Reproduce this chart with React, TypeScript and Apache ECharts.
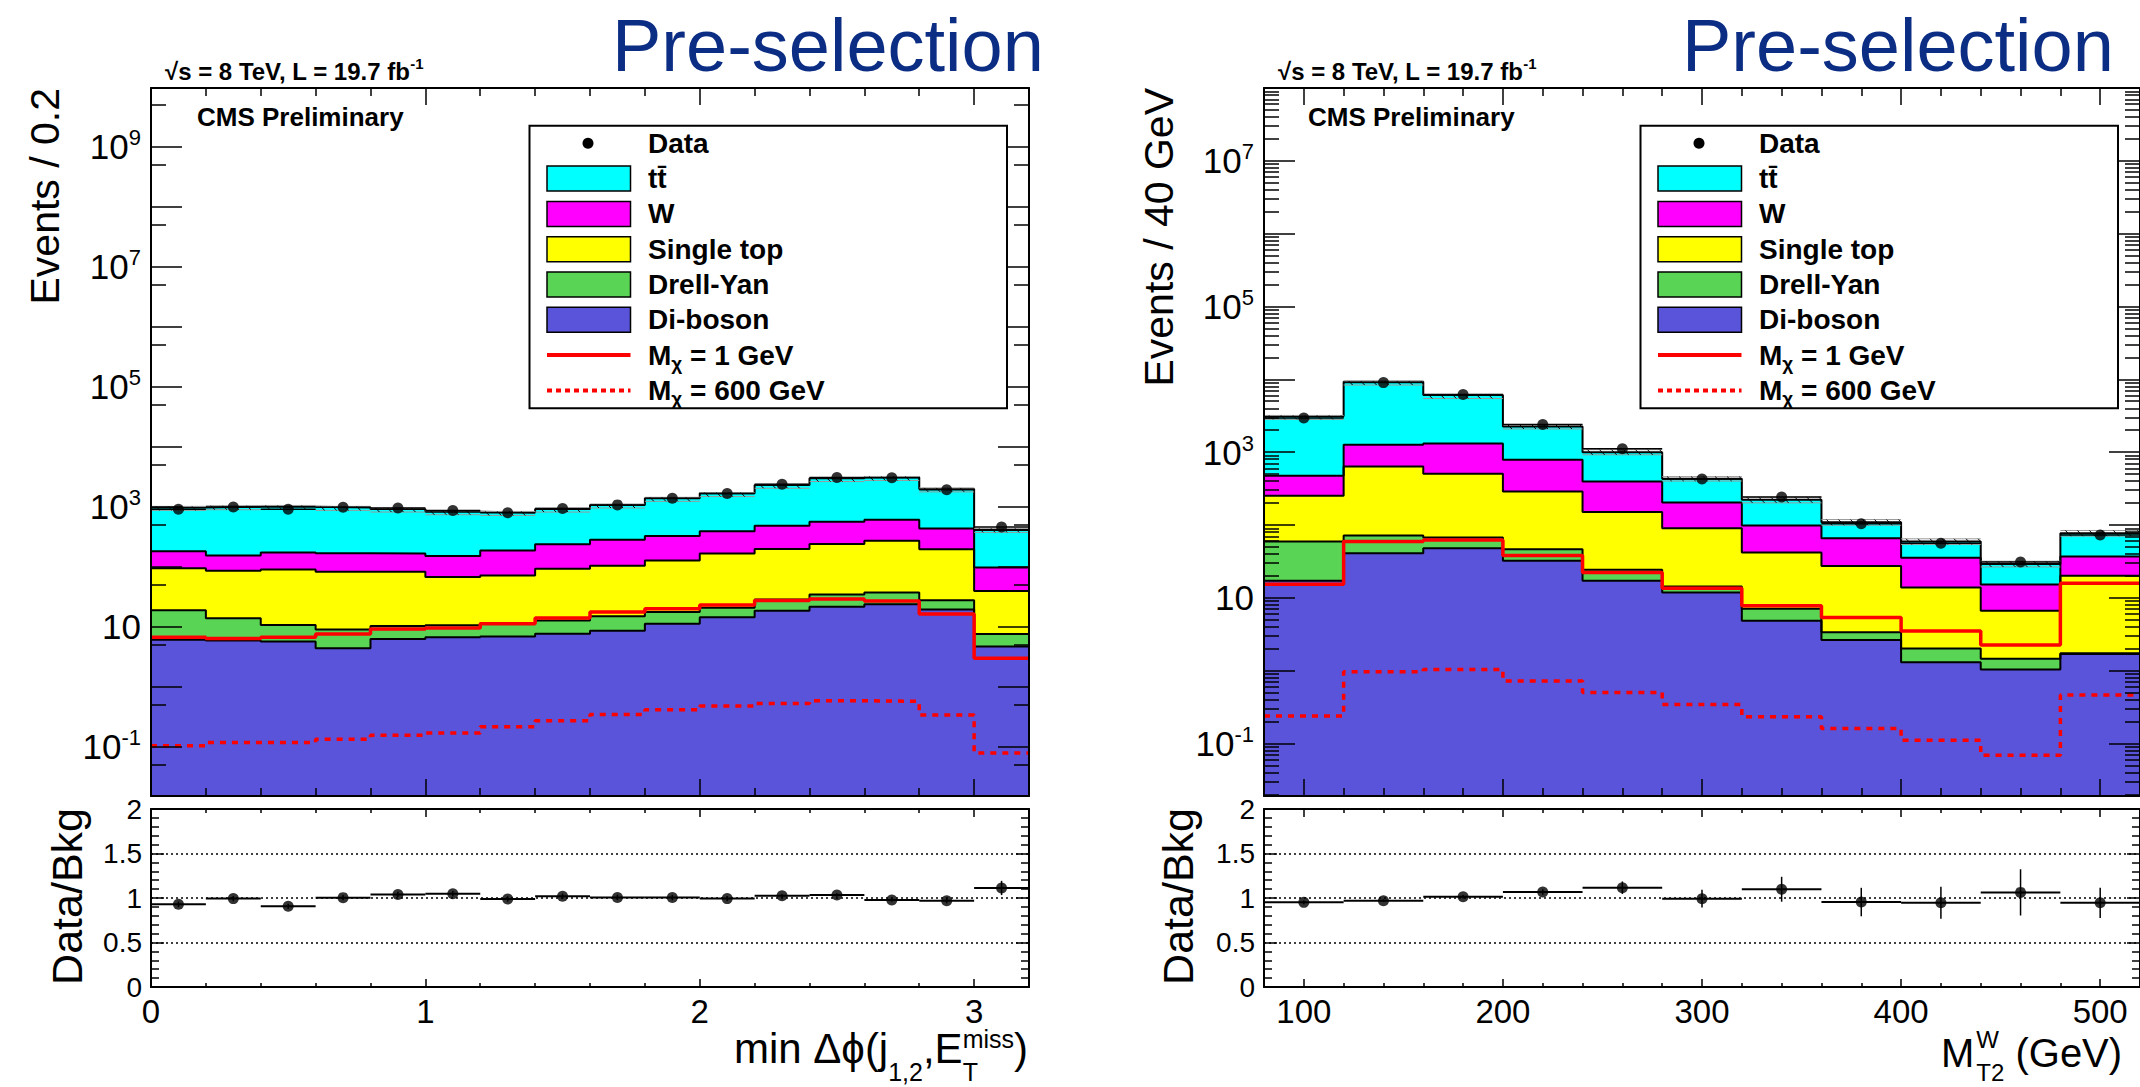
import React, { useEffect, useRef } from 'react';
import * as echarts from 'echarts';

const FONT = '"Liberation Sans", Arial, Helvetica, sans-serif';

// ================= Left panel: min Δφ(j1,2, E_T^miss), bins of 0.2 =================
const phiEdges = [0, 0.2, 0.4, 0.6, 0.8, 1.0, 1.2, 1.4, 1.6, 1.8, 2.0, 2.2, 2.4, 2.6, 2.8, 3.0, 3.2];
const phiCenters = [0.1, 0.3, 0.5, 0.7, 0.9, 1.1, 1.3, 1.5, 1.7, 1.9, 2.1, 2.3, 2.5, 2.7, 2.9, 3.1];
const phiTTbar = [794, 845, 828, 807, 748, 673, 616, 677, 786, 1053, 1278, 1819, 2409, 2494, 1546, 314];
const phiW = [86, 69, 83, 85, 84, 84, 116, 144, 177, 199, 226, 283, 321, 336, 238, 58];
const phiSingleTop = [76, 72, 79, 74, 72, 57, 60, 80, 89, 110, 145, 170, 206, 233, 168, 32];
const phiDY = [12.8, 8.0, 5.0, 4.6, 4.0, 3.9, 4.7, 5.1, 6.4, 6.4, 6.3, 9.9, 12.8, 13.5, 8.4, 2.9];
const phiDiboson = [6.1, 5.9, 5.7, 4.4, 6.3, 6.7, 6.9, 7.7, 8.6, 11.3, 14.4, 18.6, 21.7, 23.8, 19.4, 4.7];
const phiData = [906, 993, 907, 979, 951, 864, 795, 931, 1074, 1386, 1658, 2360, 3071, 3032, 1921, 458];
const phiSig1 = [6.7, 6.4, 6.7, 7.6, 9.2, 9.6, 11.3, 14.1, 17.7, 20.1, 23.2, 27.4, 29.2, 27.0, 16.4, 3.0];
const phiSig600 = [0.105, 0.118, 0.118, 0.134, 0.157, 0.171, 0.216, 0.272, 0.348, 0.416, 0.48, 0.531, 0.589, 0.574, 0.339, 0.079];
const phiRatioErr = [0.03, 0.03, 0.03, 0.03, 0.03, 0.03, 0.03, 0.03, 0.03, 0.03, 0.03, 0.02, 0.02, 0.02, 0.03, 0.08];
const phiBkgUnc = [0.04, 0.04, 0.05, 0.04, 0.04, 0.04, 0.04, 0.04, 0.04, 0.04, 0.03, 0.03, 0.03, 0.03, 0.04, 0.06];
const phiXMajor = [0, 1, 2, 3];
const phiXMinor = [0.2, 0.4, 0.6, 0.8, 1.2, 1.4, 1.6, 1.8, 2.2, 2.4, 2.6, 2.8];
const phiYMajor = [0.1, 1, 10, 100, 1e3, 1e4, 1e5, 1e6, 1e7, 1e8, 1e9];
const phiYLabels = [0.1, 10, 1e3, 1e5, 1e7, 1e9];
const phiYMinor = [0.05, 0.5, 5, 50, 500, 5e3, 5e4, 5e5, 5e6, 5e7, 5e8, 5e9];

// ================= Right panel: M_T2^W, bins of 40 GeV =================
const mt2Edges = [80, 120, 160, 200, 240, 280, 320, 360, 400, 440, 480, 520];
const mt2Centers = [100, 140, 180, 220, 260, 300, 340, 380, 420, 460, 500];
const mt2TTbar = [2627, 8030, 4765, 1465, 605, 228, 123, 43.2, 23.6, 13.9, 40.3];
const mt2W = [222, 625, 811, 497, 244, 113, 56.4, 38.4, 21.8, 8.6, 16.8];
const mt2SingleTop = [192, 563, 437, 242, 127, 76, 34.8, 24.0, 11.8, 5.2, 18.3];
const mt2DY = [42.1, 30.7, 19.2, 14.0, 7.1, 2.5, 2.2, 0.72, 0.72, 0.42, 0.04];
const mt2Diboson = [17.1, 40.9, 48.0, 32.4, 17.1, 11.8, 4.86, 2.64, 1.3, 1.04, 1.69];
const mt2Data = [2948, 9011, 6171, 2401, 1116, 428, 243, 104, 56, 31, 73];
const mt2Sig1 = [15.3, 59.2, 62.4, 38.0, 22.2, 13.5, 7.8, 5.35, 3.5, 2.25, 15.8];
const mt2Sig600 = [0.238, 0.968, 1.04, 0.72, 0.503, 0.344, 0.233, 0.161, 0.111, 0.069, 0.462];
const mt2RatioErr = [0.02, 0.015, 0.02, 0.03, 0.07, 0.1, 0.14, 0.16, 0.18, 0.26, 0.17];
const mt2BkgUnc = [0.03, 0.02, 0.02, 0.05, 0.08, 0.07, 0.09, 0.09, 0.09, 0.09, 0.09];
const mt2XMajor = [100, 200, 300, 400, 500];
const mt2XMinor = [120, 140, 160, 180, 220, 240, 260, 280, 320, 340, 360, 380, 420, 440, 460, 480];
const mt2YMajor = [0.1, 1, 10, 100, 1e3, 1e4, 1e5, 1e6, 1e7];
const mt2YLabels = [0.1, 10, 1e3, 1e5, 1e7];
const mt2Decades = [-2, -1, 0, 1, 2, 3, 4, 5, 6, 7];
const mt2Multipliers = [2, 3, 4, 5, 6, 7, 8, 9];

// ================= Ratio panel ticks =================
const ratioMajor = [0, 0.5, 1, 1.5, 2];
const ratioMinor = [0.1, 0.2, 0.3, 0.4, 0.6, 0.7, 0.8, 0.9, 1.1, 1.2, 1.3, 1.4, 1.6, 1.7, 1.8, 1.9];
const ratioRefLines = [0.5, 1, 1.5];

// ================= Legend =================
const processLabels = ['tt\u0304', 'W', 'Single top', 'Drell-Yan', 'Di-boson'];
const processColors = ['#00ffff', '#ff00ff', '#ffff00', '#59d454', '#5954d9'];
const signalMasses = ['1 GeV', '600 GeV'];
const SIG_COLOR = '#ff0000';

type Panel = {
  edges: number[]; centers: number[];
  ttbar: number[]; w: number[]; st: number[]; dy: number[]; vv: number[];
  data: number[]; sig1: number[]; sig600: number[]; ratioErr: number[]; bkgUnc: number[];
  xMin: number; xMax: number; xMajor: number[]; xMinor: number[];
  yMin: number; yMax: number; yMajor: number[]; yMinor: number[]; yLabels: number[];
};

const phiPanel: Panel = {
  edges: phiEdges, centers: phiCenters, ttbar: phiTTbar, w: phiW, st: phiSingleTop, dy: phiDY, vv: phiDiboson,
  data: phiData, sig1: phiSig1, sig600: phiSig600, ratioErr: phiRatioErr, bkgUnc: phiBkgUnc,
  xMin: 0, xMax: 3.2, xMajor: phiXMajor, xMinor: phiXMinor,
  yMin: 0.01524, yMax: 9.4e9, yMajor: phiYMajor, yMinor: phiYMinor, yLabels: phiYLabels,
};

const mt2YMin = 0.0190;
const mt2YMax = 1.0e8;
const mt2YMinor: number[] = [];
mt2Decades.forEach((d) => mt2Multipliers.forEach((m) => {
  const v = m * Math.pow(10, d);
  if (v >= mt2YMin && v < mt2YMax) mt2YMinor.push(v);
}));

const mt2Panel: Panel = {
  edges: mt2Edges, centers: mt2Centers, ttbar: mt2TTbar, w: mt2W, st: mt2SingleTop, dy: mt2DY, vv: mt2Diboson,
  data: mt2Data, sig1: mt2Sig1, sig600: mt2Sig600, ratioErr: mt2RatioErr, bkgUnc: mt2BkgUnc,
  xMin: 80, xMax: 520, xMajor: mt2XMajor, xMinor: mt2XMinor,
  yMin: mt2YMin, yMax: mt2YMax, yMajor: mt2YMajor, yMinor: mt2YMinor, yLabels: mt2YLabels,
};

function stepPoints(edges: number[], vals: number[]) {
  const pts = vals.map((v, i) => [edges[i], v]);
  pts.push([edges[edges.length - 1], vals[vals.length - 1]]);
  return pts;
}

function mkAxis(grid: number, type: string, min: number, max: number, position: string,
  ticks: number[], len: number, line: boolean, label: any) {
  const ax: any = {
    gridIndex: grid, type, min, max, position, z: 10, silent: true,
    axisLine: { show: line, onZero: false, lineStyle: { color: '#000', width: 2 } },
    axisTick: { show: true, inside: true, length: len, customValues: ticks, lineStyle: { color: '#000', width: 1.5 } },
    axisLabel: label ? { show: true, customValues: label.values, showMinLabel: true, showMaxLabel: true, color: '#000', fontFamily: FONT, ...label.style } : { show: false },
    splitLine: { show: false },
    minorTick: { show: false },
    minorSplitLine: { show: false },
    axisPointer: { show: false },
  };
  if (type === 'log') ax.logBase = 10;
  return ax;
}

function logLabel(values: number[]) {
  return {
    values,
    style: {
      margin: 10,
      formatter: (v: number) => {
        const e = Math.round(Math.log10(v));
        return e === 1 ? '{b|10}' : `{b|10}{s|${e}}`;
      },
      rich: {
        b: { fontSize: 35, fontFamily: FONT, color: '#000', lineHeight: 40 },
        s: { fontSize: 22, fontFamily: FONT, color: '#000', lineHeight: 22, verticalAlign: 'top' },
      },
    },
  };
}

function addPanel(p: Panel, gMain: number, gRatio: number, xAxes: any[], yAxes: any[], series: any[]) {
  const xi = xAxes.length;
  xAxes.push(
    mkAxis(gMain, 'value', p.xMin, p.xMax, 'bottom', p.xMajor, 17, true, null),
    mkAxis(gMain, 'value', p.xMin, p.xMax, 'bottom', p.xMinor, 8, false, null),
    mkAxis(gMain, 'value', p.xMin, p.xMax, 'top', p.xMajor, 17, true, null),
    mkAxis(gMain, 'value', p.xMin, p.xMax, 'top', p.xMinor, 8, false, null),
  );
  const yi = yAxes.length;
  yAxes.push(
    mkAxis(gMain, 'log', p.yMin, p.yMax, 'left', p.yMajor, 31, true, logLabel(p.yLabels)),
    mkAxis(gMain, 'log', p.yMin, p.yMax, 'left', p.yMinor, 15, false, null),
    mkAxis(gMain, 'log', p.yMin, p.yMax, 'right', p.yMajor, 31, true, null),
    mkAxis(gMain, 'log', p.yMin, p.yMax, 'right', p.yMinor, 15, false, null),
  );
  const xr = xAxes.length;
  xAxes.push(
    mkAxis(gRatio, 'value', p.xMin, p.xMax, 'bottom', p.xMajor, 8, true, { values: p.xMajor, style: { fontSize: 33, lineHeight: 28, margin: 10 } }),
    mkAxis(gRatio, 'value', p.xMin, p.xMax, 'bottom', p.xMinor, 4, false, null),
    mkAxis(gRatio, 'value', p.xMin, p.xMax, 'top', p.xMajor, 8, true, null),
    mkAxis(gRatio, 'value', p.xMin, p.xMax, 'top', p.xMinor, 4, false, null),
  );
  const yr = yAxes.length;
  yAxes.push(
    mkAxis(gRatio, 'value', 0, 2, 'left', ratioMajor, 13, true, { values: ratioMajor, style: { fontSize: 28, margin: 9, formatter: (v: number) => String(v) } }),
    mkAxis(gRatio, 'value', 0, 2, 'left', ratioMinor, 8, false, null),
    mkAxis(gRatio, 'value', 0, 2, 'right', ratioMajor, 13, true, null),
    mkAxis(gRatio, 'value', 0, 2, 'right', ratioMinor, 8, false, null),
  );

  // cumulative stack (built from the per-process arrays)
  const c1 = p.vv.slice();
  const c2 = c1.map((v, i) => v + p.dy[i]);
  const c3 = c2.map((v, i) => v + p.st[i]);
  const c4 = c3.map((v, i) => v + p.w[i]);
  const c5 = c4.map((v, i) => v + p.ttbar[i]);
  const layers: [number[], string][] = [
    [c5, processColors[0]], [c4, processColors[1]], [c3, processColors[2]], [c2, processColors[3]], [c1, processColors[4]],
  ];
  layers.forEach(([vals, color]) => {
    series.push({
      type: 'line', xAxisIndex: xi, yAxisIndex: yi, data: stepPoints(p.edges, vals), step: 'end',
      symbol: 'none', showSymbol: false, silent: true, z: 2,
      lineStyle: { color: '#000', width: 2 },
      areaStyle: { color, opacity: 1, origin: 'start' },
    });
  });
  const total = c5;

  // hatched MC uncertainty band
  series.push({
    type: 'custom', xAxisIndex: xi, yAxisIndex: yi, z: 3, silent: true, clip: true,
    data: total.map((t, i) => [p.edges[i], p.edges[i + 1], t * (1 - p.bkgUnc[i]), t * (1 + p.bkgUnc[i])]),
    encode: { x: [0, 1], y: [2, 3] },
    renderItem: (params: any, api: any) => {
      const tl = api.coord([api.value(0), api.value(3)]);
      const br = api.coord([api.value(1), api.value(2)]);
      const h = Math.max(br[1] - tl[1], 4);
      const children: any[] = [
        { type: 'line', shape: { x1: tl[0], y1: tl[1], x2: br[0], y2: tl[1] }, style: { stroke: '#9a9a9a', lineWidth: 1 } },
        { type: 'line', shape: { x1: tl[0], y1: tl[1] + h, x2: br[0], y2: tl[1] + h }, style: { stroke: '#9a9a9a', lineWidth: 1 } },
      ];
      for (let x = tl[0] + 5; x < br[0] - 2; x += 12) {
        const xe = Math.min(x + h, br[0]);
        children.push({ type: 'line', shape: { x1: x, y1: tl[1], x2: xe, y2: tl[1] + (xe - x) }, style: { stroke: '#000', lineWidth: 1 } });
      }
      return { type: 'group', children };
    },
  });

  // signals
  series.push({
    type: 'line', xAxisIndex: xi, yAxisIndex: yi, data: stepPoints(p.edges, p.sig1), step: 'end',
    symbol: 'none', showSymbol: false, silent: true, z: 4,
    lineStyle: { color: SIG_COLOR, width: 3.5 },
  });
  series.push({
    type: 'line', xAxisIndex: xi, yAxisIndex: yi, data: stepPoints(p.edges, p.sig600), step: 'end',
    symbol: 'none', showSymbol: false, silent: true, z: 4,
    lineStyle: { color: SIG_COLOR, width: 3.5, type: [6, 6] },
  });

  // data: horizontal bin-width bars + markers
  series.push({
    type: 'custom', xAxisIndex: xi, yAxisIndex: yi, z: 5, silent: true, clip: true,
    data: p.data.map((d, i) => [p.centers[i], d, (p.edges[i + 1] - p.edges[i]) / 2]),
    encode: { x: 0, y: 1 },
    renderItem: (params: any, api: any) => {
      const c = api.value(0), v = api.value(1), hw = api.value(2);
      const a = api.coord([c - hw, v]);
      const b = api.coord([c + hw, v]);
      return { type: 'line', shape: { x1: a[0], y1: a[1], x2: b[0], y2: b[1] }, style: { stroke: '#000', lineWidth: 1.5 } };
    },
  });
  series.push({
    type: 'scatter', xAxisIndex: xi, yAxisIndex: yi, z: 6, silent: true,
    data: p.data.map((d, i) => [p.centers[i], d]),
    symbol: 'circle', symbolSize: 11, itemStyle: { color: '#000' },
  });

  // ratio panel
  const ratio = p.data.map((d, i) => d / total[i]);
  series.push({
    type: 'custom', xAxisIndex: xr, yAxisIndex: yr, z: 5, silent: true, clip: true,
    data: ratio.map((r, i) => [p.centers[i], r, p.ratioErr[i], (p.edges[i + 1] - p.edges[i]) / 2]),
    encode: { x: 0, y: 1 },
    renderItem: (params: any, api: any) => {
      const c = api.value(0), r = api.value(1), e = api.value(2), hw = api.value(3);
      const l = api.coord([c - hw, r]);
      const rr = api.coord([c + hw, r]);
      const t = api.coord([c, r + e]);
      const b = api.coord([c, r - e]);
      return {
        type: 'group',
        children: [
          { type: 'line', shape: { x1: l[0], y1: l[1], x2: rr[0], y2: rr[1] }, style: { stroke: '#000', lineWidth: 2 } },
          { type: 'line', shape: { x1: t[0], y1: t[1], x2: b[0], y2: b[1] }, style: { stroke: '#000', lineWidth: 1.5 } },
        ],
      };
    },
  });
  series.push({
    type: 'scatter', xAxisIndex: xr, yAxisIndex: yr, z: 6, silent: true,
    data: ratio.map((r, i) => [p.centers[i], r]),
    symbol: 'circle', symbolSize: 11, itemStyle: { color: '#000' },
    markLine: {
      silent: true, symbol: ['none', 'none'], label: { show: false }, z: 1,
      lineStyle: { type: [2, 3], color: '#000', width: 1.5 },
      data: ratioRefLines.map((v) => ({ yAxis: v })),
    },
  });
}

function measure(text: string, font: string) {
  const ctx = document.createElement('canvas').getContext('2d')!;
  ctx.font = font;
  return ctx.measureText(text).width;
}

function txt(x: number, y: number, text: string, font: string, extra: any = {}) {
  return {
    type: 'text', x, y, z: 100, silent: true,
    style: {
      text, font, fill: '#000', textFill: '#000',
      textAlign: 'left', align: 'left', textVerticalAlign: 'middle', verticalAlign: 'middle',
      ...extra,
    },
  };
}

function legendGraphics(x0: number) {
  const els: any[] = [];
  const yTop = 125.7, yBot = 408.3;
  els.push({ type: 'rect', z: 90, silent: true, shape: { x: x0, y: yTop, width: 477.5, height: yBot - yTop }, style: { fill: '#fff', stroke: '#000', lineWidth: 2 } });
  const rows = [143.3, 178.6, 213.9, 249.2, 284.5, 319.8, 355.1, 390.4];
  const tx = x0 + 118.5;
  const f = `bold 28px ${FONT}`;
  els.push({ type: 'circle', z: 100, silent: true, shape: { cx: x0 + 58.5, cy: rows[0], r: 5.5 }, style: { fill: '#000' } });
  els.push(txt(tx, rows[0], 'Data', f));
  processLabels.forEach((lab, i) => {
    const y = rows[i + 1];
    els.push({ type: 'rect', z: 100, silent: true, shape: { x: x0 + 17.5, y: y - 12.5, width: 83.5, height: 25 }, style: { fill: processColors[i], stroke: '#000', lineWidth: 1.5 } });
    els.push(txt(tx, y, lab, f));
  });
  signalMasses.forEach((m, i) => {
    const y = rows[6 + i];
    els.push({ type: 'line', z: 100, silent: true, shape: { x1: x0 + 17.5, y1: y, x2: x0 + 101, y2: y }, style: { stroke: SIG_COLOR, lineWidth: 4, lineDash: i === 0 ? null : [5, 4] } });
    els.push({
      type: 'text', x: tx, y, z: 100, silent: true,
      style: {
        text: `{m|M}{x|\u03c7}{m| = ${m}}`, fill: '#000', textFill: '#000',
        textAlign: 'left', align: 'left', textVerticalAlign: 'middle', verticalAlign: 'middle',
        rich: {
          m: { fontSize: 28, fontWeight: 'bold', fontFamily: FONT, fill: '#000', lineHeight: 36 },
          x: { fontSize: 19, fontWeight: 'bold', fontFamily: FONT, fill: '#000', lineHeight: 19, verticalAlign: 'bottom' },
        },
      },
    });
  });
  return els;
}

function panelTexts(lumiX: number, cmsX: number, preX: number) {
  const els: any[] = [];
  els.push({
    type: 'text', x: lumiX, y: 71, z: 100, silent: true,
    style: {
      text: '{b|\u221as = 8 TeV, L = 19.7 fb}{s|-1}', fill: '#000', textFill: '#000',
      textAlign: 'left', align: 'left', textVerticalAlign: 'middle', verticalAlign: 'middle',
      rich: {
        b: { fontSize: 24, fontWeight: 'bold', fontFamily: FONT, fill: '#000', lineHeight: 30 },
        s: { fontSize: 15, fontWeight: 'bold', fontFamily: FONT, fill: '#000', lineHeight: 15, verticalAlign: 'top' },
      },
    },
  });
  els.push(txt(cmsX, 117, 'CMS Preliminary', `bold 26px ${FONT}`));
  els.push(txt(preX, 45, 'Pre-selection', `74px ${FONT}`, { fill: '#0b2d84', textFill: '#0b2d84' }));
  return els;
}

function rotatedTitle(x: number, yTop: number, text: string, size: number) {
  return {
    type: 'text', x, y: yTop, rotation: Math.PI / 2, z: 100, silent: true,
    style: {
      text, font: `${size}px ${FONT}`, fill: '#000', textFill: '#000',
      textAlign: 'right', align: 'right', textVerticalAlign: 'middle', verticalAlign: 'middle',
    },
  };
}

function xTitles() {
  const els: any[] = [];
  const mid = (baseline: number, f: number) => baseline - 0.35 * f;
  const supB = 1048, subB = 1081;
  // left: min Δϕ(j_{1,2},E_T^{miss})
  const LF = 42, LS = 25;
  const lm = `${LF}px ${FONT}`, ls = `${LS}px ${FONT}`;
  const b1 = 1063;
  const p1 = 'min \u0394\u03d5(j', p2 = '1,2', p3 = ',E', sup = 'miss', sub = 'T', p4 = ')';
  const w1 = measure(p1, lm), w2 = measure(p2, ls), w3 = measure(p3, lm);
  const wsup = Math.max(measure(sup, ls), measure(sub, ls)), w4 = measure(p4, lm);
  let x = 1028 - (w1 + w2 + w3 + wsup + w4);
  els.push(txt(x, mid(b1, LF), p1, lm)); x += w1;
  els.push(txt(x, mid(subB, LS), p2, ls)); x += w2;
  els.push(txt(x, mid(b1, LF), p3, lm)); x += w3;
  els.push(txt(x, mid(supB, LS), sup, ls));
  els.push(txt(x, mid(subB, LS), sub, ls)); x += wsup;
  els.push(txt(x, mid(b1, LF), p4, lm));
  // right: M_{T2}^{W} (GeV)
  const MF = 40, SF = 24;
  const fm = `${MF}px ${FONT}`, fs = `${SF}px ${FONT}`;
  const b2 = 1067;
  let xr = 1941;
  els.push(txt(xr, mid(b2, MF), 'M', fm)); xr += measure('M', fm) + 2;
  els.push(txt(xr, mid(supB, SF), 'W', fs));
  els.push(txt(xr, mid(subB, SF), 'T2', fs)); xr += Math.max(measure('W', fs), measure('T2', fs));
  els.push(txt(xr, mid(b2, MF), ' (GeV)', fm));
  return els;
}

function buildOption() {
  const xAxes: any[] = [];
  const yAxes: any[] = [];
  const series: any[] = [];
  const grid = [
    { left: 151, top: 88, width: 878, height: 708 },
    { left: 151, top: 809, width: 878, height: 178 },
    { left: 1264, top: 88, width: 876, height: 708 },
    { left: 1264, top: 809, width: 876, height: 178 },
  ].map((g) => ({ ...g, show: false, containLabel: false, outerBoundsMode: 'none' }));
  addPanel(phiPanel, 0, 1, xAxes, yAxes, series);
  addPanel(mt2Panel, 2, 3, xAxes, yAxes, series);

  const graphics: any[] = [
    ...panelTexts(165, 197, 612),
    ...panelTexts(1278, 1308, 1682),
    ...legendGraphics(529.5),
    ...legendGraphics(1640.5),
    rotatedTitle(44.5, 88, 'Events / 0.2', 41),
    rotatedTitle(1158.5, 88, 'Events / 40 GeV', 41),
    rotatedTitle(66.5, 808, 'Data/Bkg', 43),
    rotatedTitle(1178, 808, 'Data/Bkg', 43),
    ...xTitles(),
  ];

  return {
    animation: false,
    backgroundColor: '#ffffff',
    textStyle: { fontFamily: FONT },
    grid,
    xAxis: xAxes,
    yAxis: yAxes,
    series,
    graphic: { elements: graphics },
  };
}

export default function App() {
  const ref = useRef<HTMLDivElement>(null);
  useEffect(() => {
    const chart = echarts.init(ref.current!, null, { renderer: 'svg' });
    chart.setOption(buildOption() as any);
    return () => chart.dispose();
  }, []);
  return (
    <div
      ref={ref}
      style={{ position: 'fixed', left: 0, top: 0, width: 2140, height: 1087, background: '#fff' }}
    />
  );
}
